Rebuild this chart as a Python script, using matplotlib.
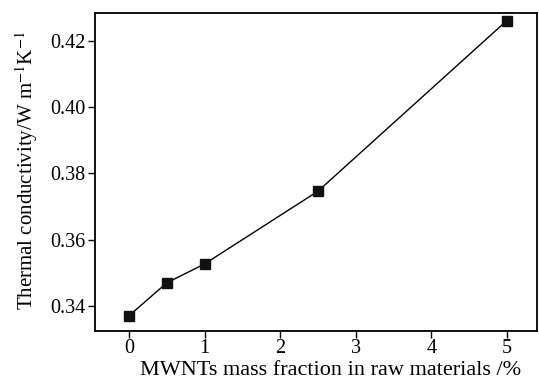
import matplotlib
matplotlib.use("Agg")
import matplotlib.pyplot as plt

mass_fraction = [0, 0.5, 1, 2.5, 5]
conductivity = [0.3371, 0.3470, 0.3527, 0.3746, 0.4260]
x_ticks = [0, 1, 2, 3, 4, 5]
y_ticks = [0.34, 0.36, 0.38, 0.40, 0.42]

plt.rcParams['font.family'] = 'Liberation Serif'
plt.rcParams['mathtext.fontset'] = 'stix'

fig = plt.figure(figsize=(5.39, 3.8), dpi=100)
ax = fig.add_axes([95/539, 1-331/380, (537-95)/539, (331-13)/380])
ax.plot(mass_fraction, conductivity, color='black', lw=1.0, marker='s',
        markersize=6.5, markerfacecolor='#111111', markeredgecolor='#111111')
ax.set_xlim(-0.45, 5.4)
ax.set_ylim(0.3325, 0.4283)
ax.set_xticks(x_ticks)
ax.set_yticks(y_ticks)
ax.set_yticklabels([f"{v:.2f}" for v in y_ticks])
ax.tick_params(direction='out', length=5, width=1, labelsize=14.5, color='black')
ax.tick_params(axis='x', pad=1)
ax.tick_params(axis='y', pad=2)
for s in ax.spines.values():
    s.set_linewidth(1.3)
ax.set_xlabel('MWNTs mass fraction in raw materials /%', fontsize=16)
ax.xaxis.set_label_coords(0.532, -0.095)
ax.xaxis.label.set_va('top')
ax.set_ylabel('Thermal conductivity/W m$^{-1}$K$^{-1}$', fontsize=15)
ax.yaxis.set_label_coords(-0.125, 0.505)
fig.savefig('out.png', dpi=100)
